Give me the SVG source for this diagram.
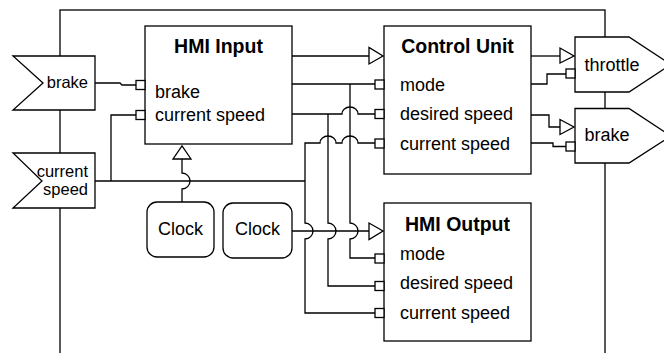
<svg xmlns="http://www.w3.org/2000/svg" width="664" height="353" viewBox="0 0 664 353">
<style>
.s{fill:#fff;stroke:#000;stroke-width:1.3}
.w{fill:none;stroke:#000;stroke-width:1.3}
.t{font-family:"Liberation Sans",Arial,sans-serif;font-size:18px;fill:#000}
.b{font-weight:bold;font-size:19.5px;text-anchor:middle}
.c{text-anchor:middle}
.l{font-size:16.5px;text-anchor:end}
</style>
<rect class="w" x="60" y="10" width="545" height="360"/>
<g id="connectors">
<path class="w" d="M95,83 H120 L122,85 H136"/>
<path class="w" d="M95,181 H305"/>
<path class="w" d="M111,181 V115 H136"/>
<path class="w" d="M305,181 V143 H320 a8,7 0 0 1 16,0 H342 a8,7 0 0 1 16,0 H375"/>
<path class="w" d="M305,181 V223 a8,8 0 0 1 0,16 V313 H375"/>
<path class="w" d="M292,56 H369"/>
<polygon class="s" points="369,47.5 369,64 383,56"/>
<path class="w" d="M292,84 H375"/>
<path class="w" d="M350,84 V223 a8,8 0 0 1 0,16 V258 H375"/>
<path class="w" d="M292,114 H342 a8,7 0 0 1 16,0 H375"/>
<path class="w" d="M328,114 V223 a8,8 0 0 1 0,16 V286 H375"/>
<path class="w" d="M292,231 H369"/>
<polygon class="s" points="369,223 369,239.5 383,231"/>
<path class="w" d="M182,159 V173 a8,8 0 0 1 0,16 V202"/>
<polygon class="s" points="173,159 191,159 182,146"/>
<path class="w" d="M531,56 H560"/>
<polygon class="s" points="560,48 560,63 574,56"/>
<path class="w" d="M531,84 H547 V74 H566"/>
<path class="w" d="M531,115 H549 V127 H560"/>
<polygon class="s" points="560,119.5 560,134.5 574,127"/>
<path class="w" d="M531,143 H553 V146.5 H566"/>
</g>
<g id="in-brake">
<polygon class="s" points="13,56 95,56 95,110 13,110 43,83"/>
<text class="t l" x="88" y="88">brake</text>
</g>
<g id="in-current-speed">
<polygon class="s" points="13,153 95,153 95,208 13,208 42,181"/>
<text class="t l" x="88" y="177">current</text>
<text class="t l" x="88" y="195">speed</text>
</g>
<g id="hmi-input">
<rect class="s" x="145" y="26" width="147" height="118"/>
<rect class="s" x="136" y="80.5" width="9" height="9"/>
<rect class="s" x="136" y="110.5" width="9" height="9"/>
<text class="t b" x="218.5" y="53">HMI Input</text>
<text class="t" x="155" y="98">brake</text>
<text class="t" x="155" y="121">current speed</text>
</g>
<g id="control-unit">
<rect class="s" x="384" y="26" width="147" height="148"/>
<rect class="s" x="375" y="80" width="9" height="9"/>
<rect class="s" x="375" y="109.5" width="9" height="9"/>
<rect class="s" x="375" y="139" width="9" height="9"/>
<text class="t b" x="457.5" y="53">Control Unit</text>
<text class="t" x="400" y="90.5">mode</text>
<text class="t" x="400" y="120">desired speed</text>
<text class="t" x="400" y="149.5">current speed</text>
</g>
<g id="hmi-output">
<rect class="s" x="384" y="203" width="147" height="138"/>
<rect class="s" x="375" y="254" width="9" height="9"/>
<rect class="s" x="375" y="281.5" width="9" height="9"/>
<rect class="s" x="375" y="308.5" width="9" height="9"/>
<text class="t b" x="457.5" y="231">HMI Output</text>
<text class="t" x="400" y="260">mode</text>
<text class="t" x="400" y="289">desired speed</text>
<text class="t" x="400" y="319">current speed</text>
</g>
<g id="clock-1">
<rect class="s" x="147" y="202" width="67" height="55" rx="10"/>
<text class="t c" x="180.5" y="235">Clock</text>
</g>
<g id="clock-2">
<rect class="s" x="223" y="203" width="69" height="55" rx="10"/>
<text class="t c" x="257.5" y="235">Clock</text>
</g>
<g id="out-throttle">
<polygon class="s" points="575,37 629,37 671,64.5 629,92 575,92"/>
<rect class="s" x="566" y="69" width="9" height="9"/>
<text class="t c" x="612" y="71">throttle</text>
</g>
<g id="out-brake">
<polygon class="s" points="575,108.5 629,108.5 671,136 629,163 575,163"/>
<rect class="s" x="566" y="142" width="9" height="9"/>
<text class="t c" x="607" y="141">brake</text>
</g>
</svg>
